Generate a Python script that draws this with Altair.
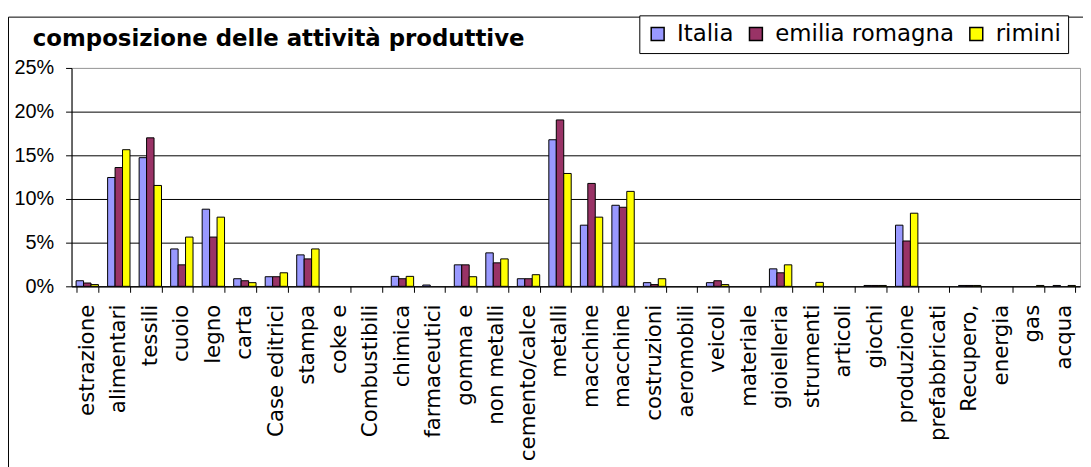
import json
import altair as alt
import pandas as pd

categories = [
    "estrazione", "alimentari", "tessili", "cuoio", "legno", "carta",
    "Case editrici", "stampa", "coke e", "Combustibili", "chimica",
    "farmaceutici", "gomma e", "non metalli", "cemento/calce", "metalli",
    "macchine", "macchine", "costruzioni", "aeromobili", "veicoli",
    "materiale", "gioielleria", "strumenti", "articoli", "giochi",
    "produzione", "prefabbricati", "Recupero,", "energia", "gas", "acqua",
]
# percentages
italia = [0.64, 12.46, 14.73, 4.28, 8.83, 0.87, 1.10, 3.60, 0, 0, 1.14,
          0.15, 2.46, 3.83, 0.87, 16.78, 7.00, 9.28, 0.42, 0, 0.42,
          0, 2.00, 0, 0, 0.10, 7.00, 0, 0.10, 0, 0, 0.10]
emilia = [0.38, 13.60, 17.00, 2.46, 5.64, 0.64, 1.10, 3.14, 0, 0, 0.87,
          0, 2.46, 2.69, 0.87, 19.05, 11.78, 9.05, 0.20, 0, 0.64,
          0, 1.55, 0, 0, 0.10, 5.19, 0, 0.10, 0, 0, 0]
rimini = [0.20, 15.64, 11.55, 5.64, 7.92, 0.42, 1.55, 4.28, 0, 0, 1.14,
          0, 1.10, 3.14, 1.33, 12.92, 7.92, 10.87, 0.87, 0, 0.20,
          0, 2.46, 0.45, 0, 0.10, 8.37, 0, 0.10, 0, 0.10, 0.10]
series = ["Italia", "emilia romagna", "rimini"]
colors = ["#9999FF", "#993366", "#FFFF00"]
y_ticks = [0, 0.05, 0.10, 0.15, 0.20, 0.25]
title_text = "composizione delle attività produttive"

rows = []
for i in range(len(categories)):
    for s, vals in zip(series, [italia, emilia, rimini]):
        rows.append({"idx": i, "serie": s, "valore": vals[i] / 100})
df = pd.DataFrame(rows)

label_expr = json.dumps(categories) + "[datum.value]"

W, H = 1016, 220

frame = alt.Chart(pd.DataFrame({"k": [0]})).mark_rect(
    fillOpacity=0, stroke="black", strokeWidth=1
).encode(
    x=alt.value(-63.5), x2=alt.value(1200),
    y=alt.value(-51.2), y2=alt.value(800),
)

title = alt.Chart(pd.DataFrame({"t": [title_text]})).mark_text(
    align="left", baseline="alphabetic", font="DejaVu Sans",
    fontSize=23, fontWeight="bold", color="black"
).encode(
    text="t:N", x=alt.value(-39), y=alt.value(-21.7)
)

bars = alt.Chart(df).transform_filter("datum.valore > 0").mark_bar(
    stroke="black", strokeWidth=1
).encode(
    x=alt.X(
        "idx:O", title=None, sort=list(range(len(categories))),
        scale=alt.Scale(domain=list(range(len(categories))),
                        paddingInner=0.29, paddingOuter=0.145),
        axis=alt.Axis(
            labelExpr=label_expr, labelAngle=-90, tickBand="extent",
            labelFont="DejaVu Sans", labelFontSize=21.5, labelColor="black",
            labelPadding=12, tickSize=6, tickColor="black",
            domainColor="black", labelOverlap=False, labelLimit=400,
            grid=False,
        ),
    ),
    xOffset=alt.XOffset(
        "serie:N", sort=series,
        scale=alt.Scale(domain=series, paddingInner=0, paddingOuter=0),
    ),
    y=alt.Y(
        "valore:Q", title=None,
        scale=alt.Scale(domain=[0, 0.25], nice=False),
        axis=alt.Axis(
            values=y_ticks, format=".0%", labelFont="Liberation Sans",
            labelFontSize=20, labelColor="black", labelPadding=12,
            tickSize=6, tickColor="black", domainColor="black",
            grid=True,
            gridColor={"condition": {"test": "datum.value >= 0.25", "value": "#A0A0A0"}, "value": "black"},
            gridOpacity=1,
        ),
    ),
    fill=alt.Fill(
        "serie:N", sort=series,
        scale=alt.Scale(domain=series, range=colors),
        legend=alt.Legend(
            title=None, orient="none", legendX=572, legendY=-53,
            direction="horizontal", symbolType="square", symbolSize=169,
            symbolStrokeColor="black", symbolStrokeWidth=1.5,
            symbolOpacity=1, labelLimit=400,
            labelFont="DejaVu Sans", labelFontSize=23, labelColor="black",
            labelOffset=8, columnPadding=11, padding=7,
            strokeColor="black", fillColor="white",
        ),
    ),
)

chart = alt.layer(frame, bars, title).properties(
    width=W, height=H,
    autosize=alt.AutoSizeParams(type="none"),
    padding={"left": 64, "top": 58.7, "right": 3, "bottom": 180},
    background="white",
).configure_view(
    stroke="#A0A0A0", strokeWidth=1
)

chart.save("out.html", embed_options={"renderer": "svg", "actions": False})
